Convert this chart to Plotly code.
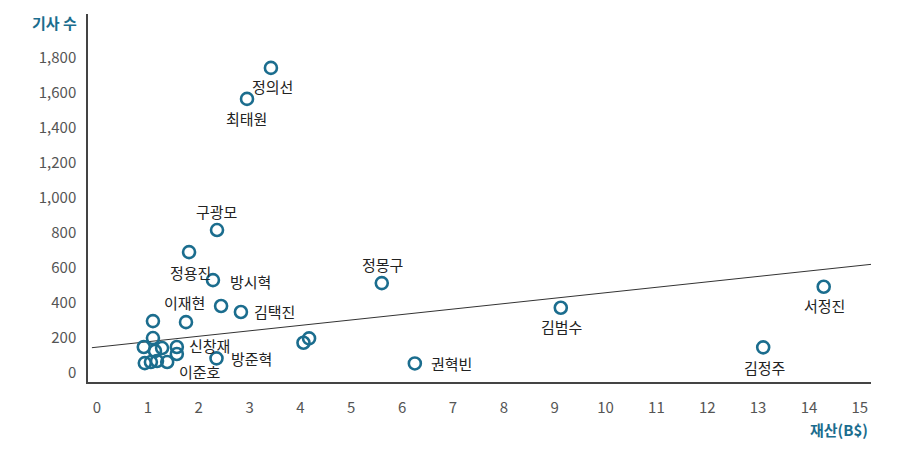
import plotly.graph_objects as go

# 재산(B$) vs 기사 수
names = ["정의선", "최태원", "구광모", "정용진", "방시혁", "", "김택진", "이재현", "",
         "정몽구", "김범수", "서정진", "김정주", "권혁빈", "", "", "방준혁",
         "", "", "", "", "신창재", "", "", "", "", "이준호"]
wealth = [3.42, 2.95, 2.36, 1.81, 2.28, 2.44, 2.83, 1.75, 1.10,
          5.60, 9.12, 14.29, 13.10, 6.25, 4.06, 4.17, 2.35,
          1.10, 0.92, 1.14, 1.28, 1.57, 1.57, 0.94, 1.06, 1.18, 1.38]
articles = [1743, 1566, 817, 691, 531, 383, 349, 291, 297,
            514, 373, 493, 147, 55, 173, 198, 84,
            200, 149, 126, 143, 149, 109, 57, 63, 69, 63]

# trend line end points
trend_x = [-0.1, 15.22]
trend_y = [145, 621]

x_ticks = list(range(0, 16))
y_ticks = list(range(0, 2000, 200))

teal = "#1b6d8e"
font = "Noto Sans CJK KR"

# label offsets (px): xshift, yshift, anchor
offsets = {
    "정의선": (2, -19, "center"),
    "최태원": (-1, -20, "center"),
    "구광모": (0, 19, "center"),
    "정용진": (1, -20, "center"),
    "방시혁": (15, -1, "left"),
    "이재현": (-2, 20, "center"),
    "김택진": (11, 0, "left"),
    "신창재": (10, 1, "left"),
    "방준혁": (12, 0, "left"),
    "이준호": (10, -9, "left"),
    "정몽구": (1, 19, "center"),
    "권혁빈": (14, 0, "left"),
    "김범수": (1, -19, "center"),
    "김정주": (1, -20, "center"),
    "서정진": (1, -19, "center"),
}

fig = go.Figure()

fig.add_trace(go.Scatter(
    x=trend_x, y=trend_y, mode="lines",
    line=dict(color="#333333", width=1), hoverinfo="skip"))

fig.add_trace(go.Scatter(
    x=wealth, y=articles, mode="markers", text=names,
    marker=dict(symbol="circle-open", size=12, color=teal,
                line=dict(width=2.6, color=teal))))

for n, xv, yv in zip(names, wealth, articles):
    if not n:
        continue
    dx, dy, anc = offsets[n]
    fig.add_annotation(x=xv, y=yv, text=n, showarrow=False,
                       xshift=dx, yshift=dy, xanchor=anc,
                       font=dict(family=font, size=15, color="#222222"))

# axis titles
fig.add_annotation(xref="paper", yref="paper", x=-0.011, y=0.976,
                   text="기사 수", showarrow=False,
                   xanchor="right", yanchor="middle",
                   font=dict(family=font, size=15, color=teal, weight="bold"))
fig.add_annotation(xref="paper", yref="paper", x=0.999, y=-0.128,
                   text="재산(B$)", showarrow=False,
                   xanchor="right", yanchor="middle",
                   font=dict(family=font, size=15, color=teal, weight="bold"))

fig.update_xaxes(range=[-0.177, 15.22], tickvals=x_ticks,
                 showgrid=False, zeroline=False,
                 showline=True, linecolor="#444444", linewidth=1.5,
                 ticks="outside", ticklen=11, tickcolor="rgba(0,0,0,0)",
                 tickfont=dict(family=font, size=15, color="#555555"))
fig.update_yaxes(range=[-51, 2051], tickvals=y_ticks, tickformat=",",
                 showgrid=False, zeroline=False,
                 showline=True, linecolor="#444444", linewidth=1.5,
                 ticks="outside", ticklen=7, tickcolor="rgba(0,0,0,0)",
                 tickfont=dict(family=font, size=15, color="#555555"))

fig.update_layout(
    width=903, height=449,
    margin=dict(l=88, r=32, t=14, b=67),
    plot_bgcolor="white", paper_bgcolor="white",
    showlegend=False)

fig.write_html("out.html", config={"displayModeBar": False},
               post_script="document.body.style.margin='0';")
